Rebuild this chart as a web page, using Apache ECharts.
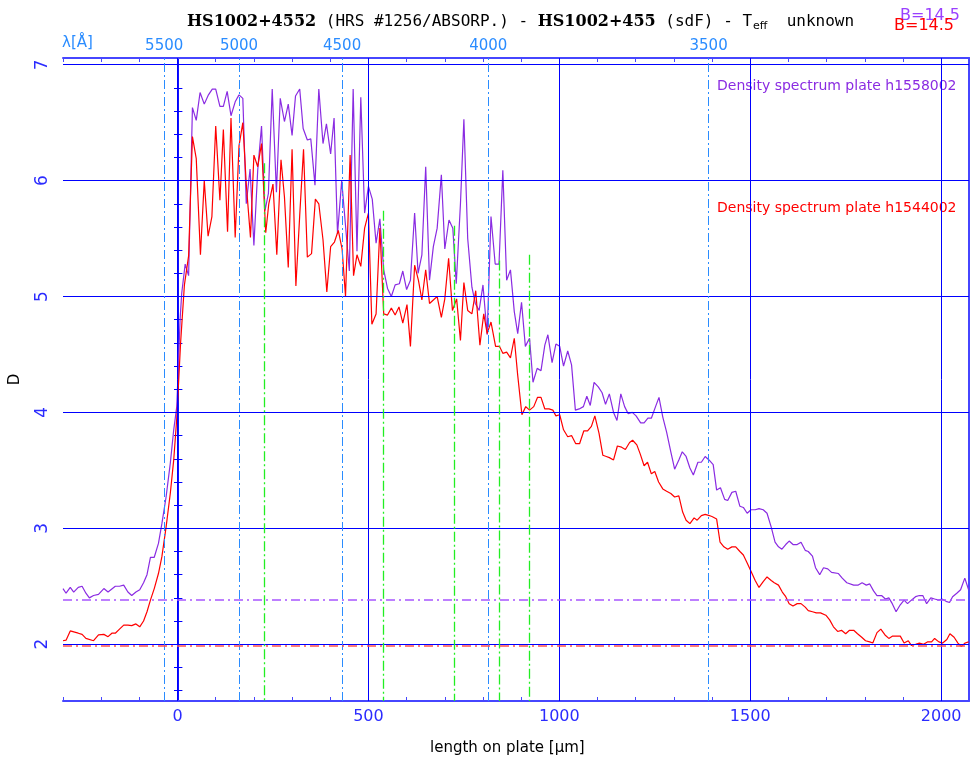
<!DOCTYPE html>
<html><head><meta charset="utf-8">
<script src="https://cdn.jsdelivr.net/npm/echarts@6/dist/echarts.min.js"></script>
<style>html,body{margin:0;padding:0;background:#fff}#c{width:970px;height:765px}</style>
</head><body><div id="c"></div>
<script>
// ---- data (length on plate in micrometres, density D) ----
const purpleX = [-300,-292,-281,-272,-260,-250,-240,-231,-220,-207,-193,-182,-163,-152,-141,-130,-120,-109,-99,-89,-80,-71,-61,-50,-41,-30,-19,-10,-2,7,11,20,29,39,49,59,70,81,91,100,111,120,130,140,151,161,171,180,190,200,210,220,229,238,248,259,269,280,290,300,309,320,329,340,349,360,370,381,390,401,410,419,430,440,450,460,470,480,490,500,510,520,530,540,550,560,570,581,590,600,610,621,630,640,650,660,670,680,691,700,711,721,730,741,750,760,771,780,790,800,811,821,832,842,852,862,872,882,891,901,911,922,931,942,952,962,970,981,991,1001,1011,1022,1032,1042,1052,1063,1072,1081,1091,1102,1112,1121,1131,1142,1151,1161,1171,1180,1191,1201,1213,1222,1232,1241,1252,1261,1271,1281,1292,1302,1313,1322,1332,1342,1351,1363,1372,1382,1392,1403,1412,1422,1433,1441,1452,1462,1473,1482,1492,1502,1513,1523,1534,1544,1555,1565,1574,1583,1593,1602,1612,1623,1633,1644,1652,1663,1671,1682,1692,1703,1713,1731,1741,1753,1771,1783,1793,1804,1813,1823,1832,1844,1854,1863,1872,1882,1893,1903,1912,1922,1933,1943,1952,1962,1973,1983,1994,2002,2013,2022,2030,2041,2051,2062,2072];
const purpleD = [2.48,2.44,2.49,2.45,2.49,2.50,2.44,2.40,2.42,2.43,2.48,2.45,2.50,2.50,2.51,2.45,2.42,2.45,2.47,2.53,2.60,2.75,2.75,2.87,3.04,3.27,3.56,3.85,4.05,4.82,5.03,5.28,5.18,6.63,6.52,6.76,6.66,6.74,6.79,6.79,6.64,6.64,6.77,6.56,6.68,6.74,6.71,5.80,6.10,5.44,6.09,6.47,5.74,5.89,6.79,5.90,6.71,6.51,6.66,6.39,6.73,6.79,6.45,6.35,6.36,5.96,6.79,6.32,6.49,6.23,6.54,5.54,6.00,5.61,5.22,6.79,5.39,6.72,5.72,5.95,5.84,5.46,5.67,5.23,5.07,5.00,5.10,5.11,5.22,5.06,5.14,5.72,5.20,5.36,6.12,5.14,5.43,5.59,6.05,5.41,5.66,5.59,5.11,5.80,6.53,5.50,5.08,4.94,4.88,5.10,4.67,5.69,5.28,5.28,6.09,5.14,5.23,4.87,4.68,4.95,4.57,4.64,4.26,4.38,4.36,4.58,4.67,4.43,4.59,4.57,4.40,4.53,4.41,4.02,4.03,4.05,4.14,4.06,4.26,4.22,4.17,4.07,4.16,4.00,3.93,4.16,4.05,3.99,4.00,3.97,3.91,3.91,3.95,3.95,4.05,4.13,3.96,3.83,3.66,3.51,3.59,3.66,3.62,3.52,3.46,3.57,3.57,3.62,3.59,3.55,3.33,3.35,3.25,3.24,3.31,3.32,3.19,3.18,3.13,3.16,3.16,3.17,3.16,3.13,3.01,2.88,2.84,2.82,2.86,2.89,2.86,2.86,2.88,2.81,2.80,2.76,2.66,2.60,2.66,2.65,2.62,2.61,2.57,2.53,2.51,2.51,2.53,2.51,2.52,2.46,2.42,2.42,2.39,2.40,2.35,2.28,2.34,2.38,2.35,2.38,2.41,2.42,2.42,2.35,2.40,2.39,2.38,2.39,2.37,2.36,2.41,2.44,2.47,2.57,2.47];
const redX = [-300,-292,-281,-260,-250,-240,-220,-207,-193,-182,-172,-163,-152,-141,-130,-120,-109,-99,-89,-80,-71,-61,-50,-41,-30,-19,-10,-2,8,18,29,39,49,60,70,80,90,100,111,120,131,140,151,161,171,180,191,200,210,220,231,239,250,260,271,280,290,300,310,320,330,340,351,361,370,381,391,401,411,421,431,440,452,461,470,480,490,500,509,520,530,540,550,560,570,580,590,601,610,621,631,640,650,660,670,680,691,700,710,720,731,741,750,760,771,781,792,802,811,821,833,843,852,862,872,882,891,902,912,922,933,943,952,962,973,983,991,1001,1011,1022,1032,1043,1053,1064,1074,1084,1093,1104,1114,1123,1131,1142,1152,1163,1173,1184,1192,1203,1212,1222,1231,1241,1250,1260,1271,1281,1292,1302,1313,1323,1332,1342,1353,1361,1372,1382,1393,1401,1412,1421,1431,1441,1452,1462,1473,1482,1492,1502,1513,1523,1534,1544,1555,1563,1574,1584,1593,1602,1612,1623,1633,1644,1652,1663,1673,1684,1698,1708,1718,1729,1739,1750,1760,1771,1781,1792,1802,1813,1821,1832,1842,1853,1863,1873,1882,1893,1903,1914,1922,1933,1943,1954,1964,1975,1983,1994,2004,2015,2023,2034,2044,2053,2063,2072];
const redD = [2.03,2.035,2.115,2.095,2.085,2.05,2.03,2.08,2.085,2.065,2.095,2.095,2.13,2.165,2.165,2.16,2.175,2.15,2.20,2.28,2.38,2.48,2.61,2.755,3.01,3.30,3.59,3.95,4.6,5.1,5.35,6.38,6.19,5.36,6.00,5.52,5.69,6.47,5.83,6.44,5.56,6.54,5.51,6.30,6.50,5.97,5.51,6.22,6.12,6.32,5.55,5.80,5.97,5.36,6.18,5.86,5.25,6.27,5.09,5.70,6.27,5.34,5.37,5.84,5.80,5.49,5.04,5.43,5.47,5.57,5.41,5.00,6.22,5.18,5.36,5.26,5.59,5.72,4.76,4.85,5.59,4.85,4.84,4.90,4.84,4.91,4.77,4.93,4.57,5.27,5.14,4.97,5.23,4.94,4.97,5.00,4.82,4.98,5.33,4.88,4.98,4.62,5.12,4.88,4.85,5.05,4.58,4.85,4.68,4.78,4.57,4.57,4.51,4.52,4.47,4.64,4.32,3.98,4.05,4.02,4.05,4.13,4.13,4.03,4.03,4.02,3.97,3.98,3.85,3.79,3.80,3.73,3.73,3.84,3.84,3.88,3.97,3.82,3.63,3.62,3.61,3.59,3.71,3.70,3.68,3.74,3.76,3.72,3.64,3.54,3.57,3.47,3.49,3.40,3.34,3.32,3.30,3.27,3.28,3.14,3.07,3.04,3.09,3.07,3.11,3.12,3.11,3.10,3.08,2.88,2.84,2.82,2.84,2.84,2.80,2.77,2.70,2.63,2.55,2.49,2.54,2.58,2.55,2.53,2.51,2.45,2.41,2.35,2.33,2.35,2.35,2.32,2.29,2.28,2.27,2.27,2.25,2.21,2.15,2.11,2.12,2.09,2.12,2.12,2.09,2.06,2.03,2.02,2.01,2.10,2.13,2.08,2.05,2.07,2.07,2.07,2.01,2.03,1.99,2.00,2.01,2.00,2.02,2.02,2.05,2.02,2.01,2.04,2.09,2.06,2.01,1.98,2.01,2.02];

const xLabelValues = [0,500,1000,1500,2000];
const xTickValues = [-300,-200,-100,0,100,200,300,400,500,600,700,800,900,1000,1100,1200,1300,1400,1500,1600,1700,1800,1900,2000];
const yLabelValues = [2,3,4,5,6,7];
const yTickValues = [1.6,1.8,2.0,2.2,2.4,2.6,2.8,3.0,3.2,3.4,3.6,3.8,4.0,4.2,4.4,4.6,4.8,5.0,5.2,5.4,5.6,5.8,6.0,6.2,6.4,6.6,6.8,7.0];
const lambdaLabels = ['5500','5000','4500','4000','3500'];
const lambdaPos = [-35,161,431,814,1391];
const greenPos = [227,538,724,843,921];
const greenTop = [6.15,5.74,5.61,5.31,5.36];
const purpleBase = 2.38;
const redBase = 1.985;

// ---- chart ----
const X_MIN = -300, X_MAX = 2073, Y_MIN = 1.51, Y_MAX = 7.058;
const BLUE = '#0000ff', FRAME = '#4646ff', LBLUE = '#2a8cff';
const PURPLE = '#8a2be2', RED = '#ff0000';
const FONT = 'DejaVu Sans';
const MONO = 'DejaVu Sans Mono';

const chart = echarts.init(document.getElementById('c'), null, {renderer: 'canvas'});
const zip = (xs, ys) => xs.map((x, i) => [x, ys[i]]);
const dashDot = [9, 3, 2, 3];

const option = {
  animation: false,
  backgroundColor: '#fff',
  textStyle: {fontFamily: FONT},
  title: {
    left: 182, top: 6,
    text: '{b|HS1002+4552}{n| (HRS #1256/ABSORP.) - }{b|HS1002+455}{n| (sdF) - T}{s|eff}{n|  unknown}',
    textStyle: {
      fontSize: 16, fontWeight: 'normal', color: '#000', fontFamily: MONO,
      rich: {
        b: {fontSize: 16, fontWeight: 'bold', fontFamily: 'DejaVu Serif', color: '#000'},
        n: {fontSize: 16, fontFamily: MONO, color: '#000'},
        s: {fontSize: 11, fontFamily: FONT, color: '#000', padding: [10, 0, 0, 1]}
      }
    }
  },
  grid: {left: 61, top: 58, width: 908, height: 643, containLabel: false},
  xAxis: [{
    type: 'value', position: 'bottom', min: X_MIN, max: X_MAX, interval: 100,
    axisLine: {show: true, lineStyle: {color: FRAME, width: 2}},
    axisTick: {show: true, inside: true, length: 4, customValues: xTickValues, lineStyle: {color: FRAME, width: 1}},
    axisLabel: {show: true, customValues: xLabelValues, formatter: v => String(v), color: '#2b2bff', fontSize: 16, margin: 8, fontFamily: FONT},
    splitLine: {show: false}
  }, {
    type: 'value', position: 'top', min: X_MIN, max: X_MAX, interval: 100,
    axisLine: {show: true, lineStyle: {color: FRAME, width: 2}},
    axisTick: {show: true, inside: true, length: 4, customValues: xTickValues, lineStyle: {color: FRAME, width: 1}},
    axisLabel: {show: false}, splitLine: {show: false}
  }],
  yAxis: [{
    type: 'value', position: 'left', min: Y_MIN, max: Y_MAX,
    axisLine: {show: true, lineStyle: {color: FRAME, width: 2}},
    axisTick: {show: true, inside: true, length: 5, customValues: yTickValues, lineStyle: {color: FRAME, width: 1}},
    axisLabel: {show: true, customValues: yLabelValues, formatter: v => String(v), rotate: 90, color: '#2b2bff', fontSize: 17, margin: 12, fontFamily: FONT},
    splitLine: {show: false},
    name: 'D', nameLocation: 'middle', nameGap: 40, nameRotate: 90,
    nameTextStyle: {color: '#000', fontSize: 15, fontFamily: FONT}
  }, {
    type: 'value', position: 'left', offset: -115, min: Y_MIN, max: Y_MAX,
    axisLine: {show: true, lineStyle: {color: BLUE, width: 1.5}},
    axisTick: {show: true, inside: true, length: 4, customValues: yTickValues, lineStyle: {color: BLUE, width: 1}},
    axisLabel: {show: false}, splitLine: {show: false}
  }, {
    type: 'value', position: 'left', offset: -115, min: Y_MIN, max: Y_MAX,
    axisLine: {show: false},
    axisTick: {show: true, inside: false, length: 4, customValues: yTickValues, lineStyle: {color: BLUE, width: 1}},
    axisLabel: {show: false}, splitLine: {show: false}
  }, {
    type: 'value', position: 'right', min: Y_MIN, max: Y_MAX,
    axisLine: {show: true, lineStyle: {color: FRAME, width: 2}},
    axisTick: {show: false}, axisLabel: {show: false}, splitLine: {show: false}
  }],
  graphic: [
    {type: 'text', left: 62, top: 36, style: {text: 'λ[Å]', fill: LBLUE, font: '15px "DejaVu Sans"'}},
    {type: 'text', left: 717, top: 79, style: {text: 'Density spectrum plate h1558002', fill: PURPLE, font: '14px "DejaVu Sans"'}},
    {type: 'text', left: 717, top: 201, style: {text: 'Density spectrum plate h1544002', fill: RED, font: '14px "DejaVu Sans"'}},
    {type: 'text', left: 900, top: 8, style: {text: 'B=14.5', fill: '#9a40ff', font: '16px "DejaVu Sans"'}},
    {type: 'text', left: 894, top: 18, style: {text: 'B=14.5', fill: RED, font: '16px "DejaVu Sans"'}},
    {type: 'text', left: 430, top: 741, style: {text: 'length on plate [μm]', fill: '#000', font: '15px "DejaVu Sans"'}}
  ],
  series: [
    { // grid lines at the labelled values
      type: 'line', data: [], silent: true, z: 1,
      markLine: {
        silent: true, symbol: ['none', 'none'], animation: false,
        label: {show: false},
        lineStyle: {color: BLUE, width: 1, type: 'solid'},
        data: xLabelValues.map(v => ({xAxis: v})).concat(yLabelValues.map(v => ({yAxis: v})))
      }
    },
    { // wavelength marks
      type: 'line', data: [], silent: true, z: 2,
      markLine: {
        silent: true, symbol: ['none', 'none'], animation: false,
        lineStyle: {color: LBLUE, width: 1, type: dashDot},
        label: {show: true, position: 'end', distance: 4, color: LBLUE, fontSize: 15, fontFamily: FONT},
        data: lambdaPos.map((x, i) => ({xAxis: x, label: {formatter: lambdaLabels[i]}}))
      }
    },
    { // line identifications
      type: 'line', data: [], silent: true, z: 2,
      markLine: {
        silent: true, symbol: ['none', 'none'], animation: false,
        label: {show: false},
        lineStyle: {color: '#22ee22', width: 1.3, type: [10, 3, 2, 3]},
        data: greenPos.map((x, i) => [{coord: [x, greenTop[i]]}, {coord: [x, Y_MIN]}])
      }
    },
    { // base levels
      type: 'line', data: [], silent: true, z: 2,
      markLine: {
        silent: true, symbol: ['none', 'none'], animation: false,
        label: {show: false},
        data: [
          {yAxis: purpleBase, lineStyle: {color: '#a855ff', width: 1.6, type: [9, 4, 2, 4]}},
          {yAxis: redBase, lineStyle: {color: '#ff5050', width: 1.6, type: [9, 4, 2, 4]}}
        ]
      }
    },
    {
      name: 'h1558002', type: 'line', data: zip(purpleX, purpleD), z: 3,
      symbol: 'none', lineStyle: {color: PURPLE, width: 1.2}, silent: true
    },
    {
      name: 'h1544002', type: 'line', data: zip(redX, redD), z: 4,
      symbol: 'none', lineStyle: {color: RED, width: 1.2}, silent: true
    }
  ]
};
chart.setOption(option);
</script>
</body></html>
